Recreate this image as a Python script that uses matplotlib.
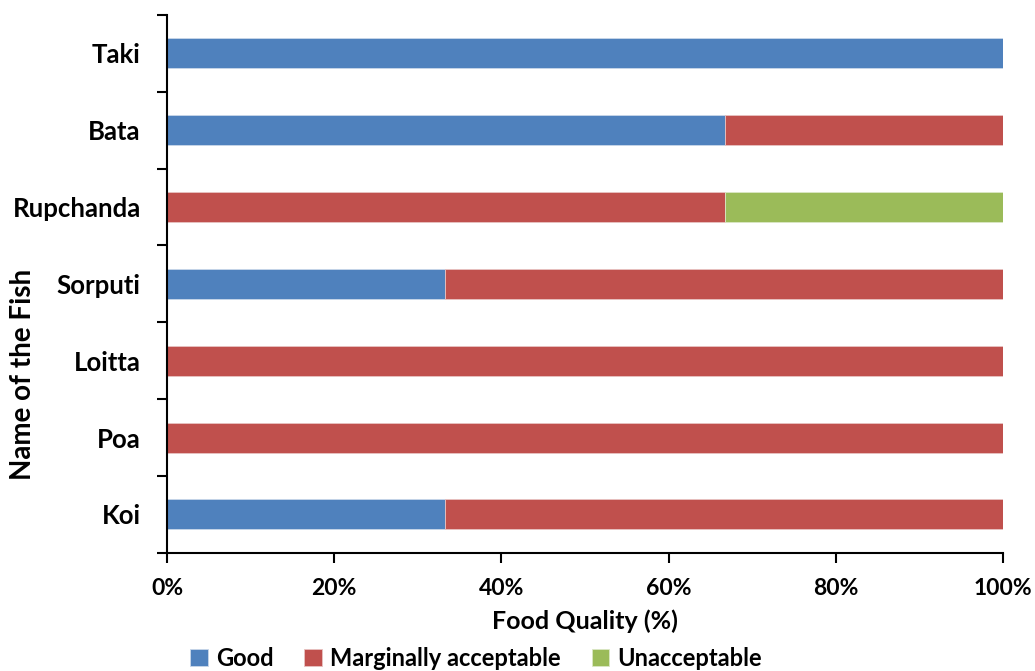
import matplotlib.pyplot as plt
from matplotlib.ticker import FixedLocator, PercentFormatter

plt.rcParams['font.family'] = ['Lato', 'DejaVu Sans']
plt.rcParams['font.weight'] = 'bold'

fish = ['Koi', 'Poa', 'Loitta', 'Sorputi', 'Rupchanda', 'Bata', 'Taki']
good = [33.3, 0, 0, 33.3, 0, 66.7, 100]
marginal = [66.7, 100, 100, 66.7, 66.7, 33.3, 0]
unacceptable = [0, 0, 0, 0, 33.3, 0, 0]

fig = plt.figure(figsize=(10.35, 6.71), dpi=100)
ax = fig.add_axes([0.1614, 0.176, 0.8076, 0.802])

y = range(len(fish))
h = 0.39
ax.barh(y, good, h, color='#4F81BD', edgecolor='#c9d7ea', linewidth=0.6, label='Good')
ax.barh(y, marginal, h, left=good, color='#C0504D', edgecolor='#e8c3c2', linewidth=0.6,
        label='Marginally acceptable')
left2 = [g + m for g, m in zip(good, marginal)]
ax.barh(y, unacceptable, h, left=left2, color='#9BBB59', edgecolor='#dbe7c6', linewidth=0.6,
        label='Unacceptable')

ax.set_xlim(0, 100)
ax.set_ylim(-0.5, 6.5)
ax.set_xticks([0, 20, 40, 60, 80, 100])
ax.xaxis.set_major_formatter(PercentFormatter(decimals=0))
ax.set_yticks(list(y))
ax.set_yticklabels(fish)
ax.yaxis.set_minor_locator(FixedLocator([i - 0.5 for i in range(8)]))
ax.tick_params(axis='y', which='major', length=0, pad=19, labelsize=18.5)
ax.tick_params(axis='y', which='minor', length=7, width=1.5)
ax.tick_params(axis='x', length=7, width=1.5, labelsize=16.5, pad=11)

for s in ['top', 'right']:
    ax.spines[s].set_visible(False)
for s in ['left', 'bottom']:
    ax.spines[s].set_linewidth(1.5)

ax.set_xlabel('Food Quality (%)', fontsize=18, fontweight='bold')
ax.set_ylabel('Name of the Fish', fontsize=20, fontweight='bold')
ax.xaxis.set_label_coords(0.5, -0.105)
ax.yaxis.set_label_coords(-0.157, 0.331)

fig.legend(loc='center', bbox_to_anchor=(0.46, 0.019), ncol=3, frameon=False,
           prop={'size': 17, 'weight': 'bold'}, handlelength=0.75, handleheight=0.75,
           handletextpad=0.35, columnspacing=1.3)

fig.savefig('out.png', dpi=100)
